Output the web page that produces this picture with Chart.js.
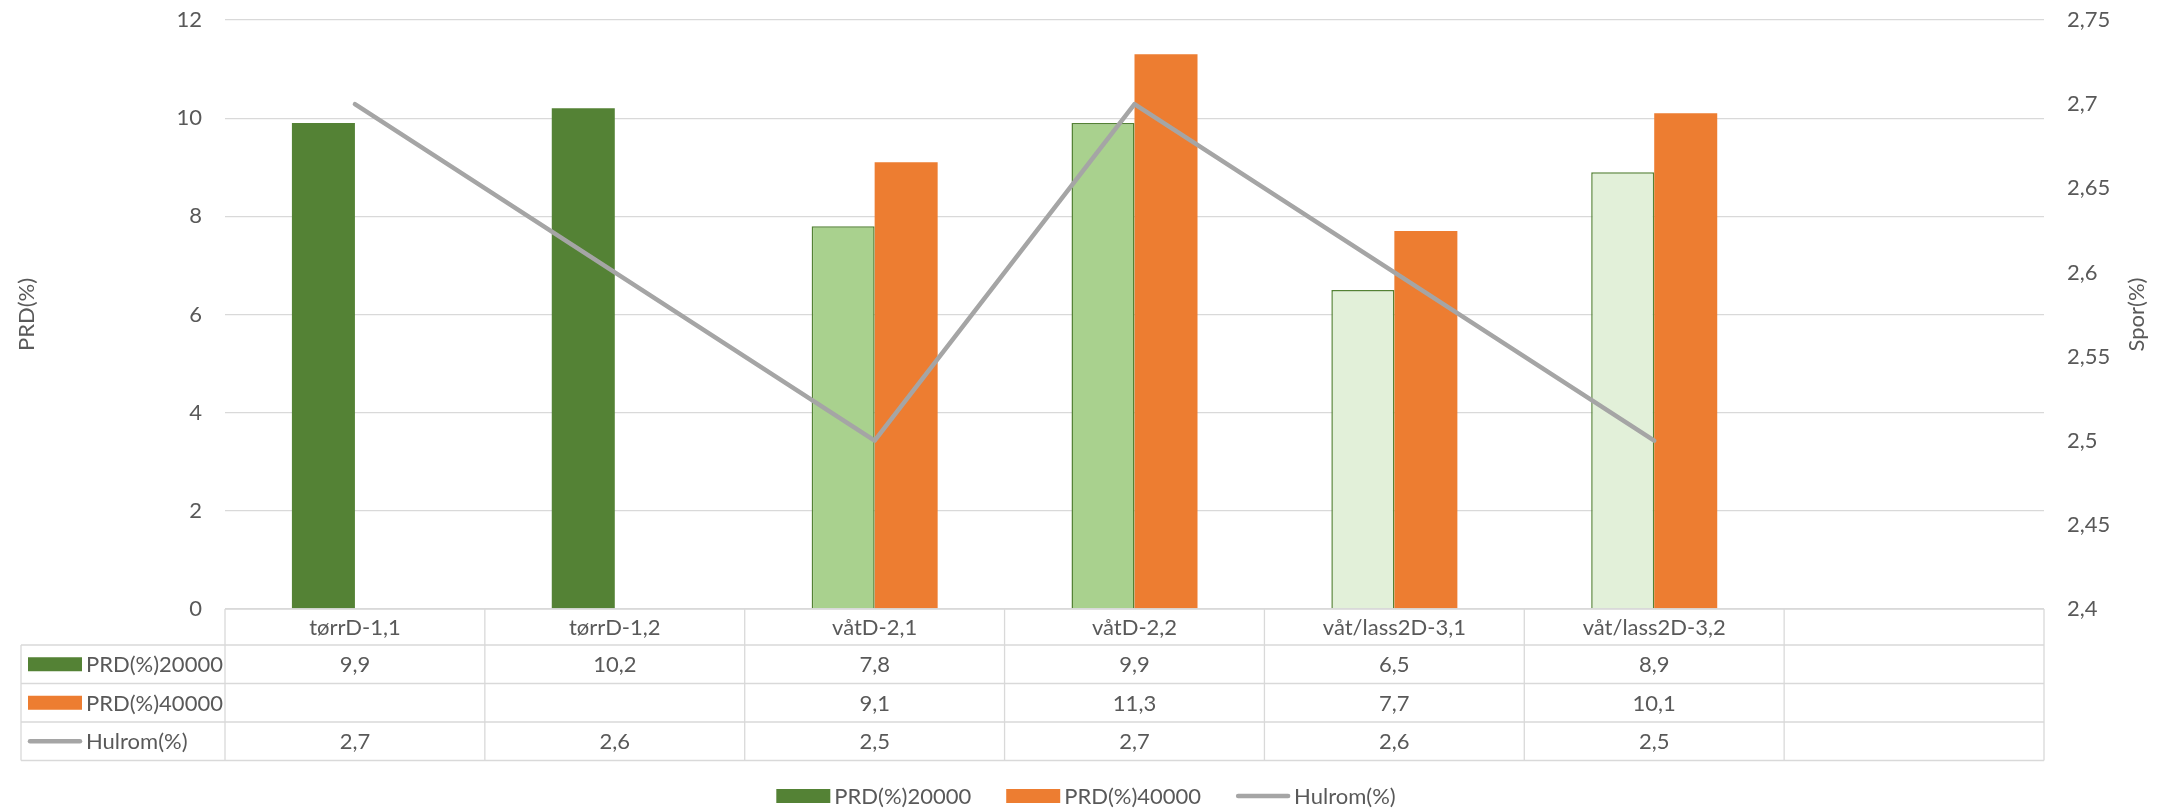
<!DOCTYPE html>
<html>
<head>
<meta charset="utf-8">
<script src="https://cdn.jsdelivr.net/npm/chart.js@4/dist/chart.umd.min.js"></script>
<style>
  html, body { margin: 0; padding: 0; background: #ffffff; }
  canvas { display: block; }
</style>
</head>
<body>
<canvas id="chart" width="2172" height="810"></canvas>
<script>
// Categories (the last column of the table is left empty)
const categories = ['tørrD-1,1', 'tørrD-1,2', 'våtD-2,1', 'våtD-2,2', 'våt/lass2D-3,1', 'våt/lass2D-3,2', ''];

// Series values
const prd20000 = [9.9, 10.2, 7.8, 9.9, 6.5, 8.9, null];
const prd40000 = [null, null, 9.1, 11.3, 7.7, 10.1, null];
const hulrom   = [2.7, 2.6, 2.5, 2.7, 2.6, 2.5, null];

// Series names
const seriesNames = ['PRD(%)20000', 'PRD(%)40000', 'Hulrom(%)'];

// Axis ticks and titles
const leftTicks  = [0, 2, 4, 6, 8, 10, 12];
const rightTicks = [2.4, 2.45, 2.5, 2.55, 2.6, 2.65, 2.7, 2.75];
const leftTitle  = 'PRD(%)';
const rightTitle = 'Spor(%)';

// ---- styling ----
const FONT = 'Lato';
const FONT_SIZE = 22;
const TEXT = '#595959';
const GRID = '#D9D9D9';
const DARK_GREEN = '#548235';
const ORANGE = '#ED7D31';
const GREY_LINE = '#A5A5A5';
const greenFill = ['#548235', '#548235', '#A9D18E', '#A9D18E', '#E2F0D9', '#E2F0D9', '#548235'];
const greenBorder = [0, 0, 1.5, 1.5, 1.5, 1.5, 0];

const comma = v => (v === null || v === undefined) ? '' : String(v).replace('.', ',');

// Data table rows under the plot, plus the bottom legend
const HEADER_H = 36;
const ROW_H = 38.5;
const TABLE_LEFT = 21;
const LEGEND_Y = 796;
const RIGHT_TITLE_X = 2137;

function drawKey(ctx, kind, x, yc, w) {
  ctx.save();
  if (kind === 0) {
    ctx.fillStyle = DARK_GREEN;
    ctx.fillRect(x, yc - 7, w, 14);
  } else if (kind === 1) {
    ctx.fillStyle = ORANGE;
    ctx.fillRect(x, yc - 7, w, 14);
  } else {
    ctx.strokeStyle = GREY_LINE;
    ctx.lineWidth = 4.5;
    ctx.lineCap = 'round';
    ctx.beginPath();
    ctx.moveTo(x + 2, yc);
    ctx.lineTo(x + w - 2, yc);
    ctx.stroke();
  }
  ctx.restore();
}

const dataTablePlugin = {
  id: 'dataTable',
  afterDraw(chart) {
    const ctx = chart.ctx;
    const xs = chart.scales.x;
    const area = chart.chartArea;
    const n = categories.length;
    const colW = xs.getPixelForValue(1) - xs.getPixelForValue(0);
    const top = area.bottom;
    const rowTops = [top + HEADER_H, top + HEADER_H + ROW_H, top + HEADER_H + 2 * ROW_H];
    const bottom = top + HEADER_H + 3 * ROW_H;
    const rows = [prd20000, prd40000, hulrom];

    ctx.save();
    ctx.strokeStyle = GRID;
    ctx.lineWidth = 1.3;
    ctx.beginPath();
    // horizontal lines
    ctx.moveTo(area.left, top); ctx.lineTo(area.right, top);
    rowTops.forEach(y => { ctx.moveTo(TABLE_LEFT, y); ctx.lineTo(area.right, y); });
    ctx.moveTo(TABLE_LEFT, bottom); ctx.lineTo(area.right, bottom);
    // vertical lines
    ctx.moveTo(TABLE_LEFT, rowTops[0]); ctx.lineTo(TABLE_LEFT, bottom);
    for (let i = 0; i <= n; i++) {
      const xv = xs.getPixelForValue(0) - colW / 2 + i * colW;
      ctx.moveTo(xv, top); ctx.lineTo(xv, bottom);
    }
    ctx.stroke();

    ctx.fillStyle = TEXT;
    ctx.font = FONT_SIZE + 'px ' + FONT;
    ctx.textBaseline = 'middle';
    ctx.textAlign = 'center';
    // header: category names
    categories.forEach((c, i) => {
      ctx.fillText(c, xs.getPixelForValue(i), top + HEADER_H / 2 + 1);
    });
    // value rows
    rows.forEach((vals, r) => {
      const yc = rowTops[r] + ROW_H / 2;
      vals.forEach((v, i) => {
        ctx.fillText(comma(v), xs.getPixelForValue(i), yc + 1);
      });
    });
    // row labels with keys
    ctx.textAlign = 'left';
    rows.forEach((vals, r) => {
      const yc = rowTops[r] + ROW_H / 2;
      drawKey(ctx, r, 28, yc, 54);
      ctx.fillStyle = TEXT;
      ctx.fillText(seriesNames[r], 86, yc + 1);
    });

    // bottom legend, centred on the canvas
    const keyW = 54, keyGap = 4, itemGap = 35;
    const widths = seriesNames.map(s => ctx.measureText(s).width);
    const total = widths.reduce((a, w) => a + keyW + keyGap + w, 0) + itemGap * (seriesNames.length - 1);
    let lx = chart.width / 2 - total / 2;
    seriesNames.forEach((s, i) => {
      drawKey(ctx, i, lx, LEGEND_Y, keyW);
      ctx.fillStyle = TEXT;
      ctx.fillText(s, lx + keyW + keyGap, LEGEND_Y + 1);
      lx += keyW + keyGap + widths[i] + itemGap;
    });

    // secondary axis title, reading bottom to top
    ctx.save();
    ctx.translate(RIGHT_TITLE_X, (area.top + area.bottom) / 2);
    ctx.rotate(-Math.PI / 2);
    ctx.textAlign = 'center';
    ctx.fillStyle = TEXT;
    ctx.fillText(rightTitle, 0, 0);
    ctx.restore();

    ctx.restore();
  }
};

// fixed box sizes for the vertical axes, without extra label padding
function fitVertical(width) {
  return s => {
    s.width = width;
    s.paddingTop = 0;
    s.paddingBottom = 0;
  };
}

function build() {
  new Chart(document.getElementById('chart'), {
    type: 'bar',
    data: {
      labels: categories,
      datasets: [
        {
          type: 'line',
          label: seriesNames[2],
          data: hulrom,
          yAxisID: 'y1',
          borderColor: GREY_LINE,
          backgroundColor: GREY_LINE,
          borderWidth: 4.5,
          pointRadius: 0,
          pointHoverRadius: 0,
          tension: 0,
          borderJoinStyle: 'round',
          borderCapStyle: 'round',
          order: 0
        },
        {
          label: seriesNames[0],
          data: prd20000,
          yAxisID: 'y',
          backgroundColor: greenFill,
          borderColor: DARK_GREEN,
          borderWidth: greenBorder,
          order: 1
        },
        {
          label: seriesNames[1],
          data: prd40000,
          yAxisID: 'y',
          backgroundColor: ORANGE,
          borderWidth: 0,
          order: 2
        }
      ]
    },
    options: {
      responsive: false,
      animation: false,
      devicePixelRatio: 1,
      categoryPercentage: 0.485,
      barPercentage: 1,
      layout: { padding: { top: 20, left: 0, right: 0, bottom: 0 } },
      plugins: {
        legend: { display: false },
        tooltip: { enabled: false }
      },
      scales: {
        x: {
          grid: { display: false },
          border: { display: false },
          ticks: { display: false },
          afterFit: s => { s.height = 201; s.paddingLeft = 0; s.paddingRight = 0; }
        },
        y: {
          position: 'left',
          min: 0,
          max: 12,
          afterBuildTicks: s => { s.ticks = leftTicks.map(v => ({ value: v })); },
          afterFit: fitVertical(225),
          grid: { color: GRID, lineWidth: 1.3, drawTicks: false },
          border: { display: false },
          ticks: {
            padding: 23,
            color: TEXT,
            font: { family: FONT, size: FONT_SIZE },
            callback: v => comma(v)
          },
          title: {
            display: true,
            text: leftTitle,
            color: TEXT,
            font: { family: FONT, size: FONT_SIZE },
            padding: { top: 14, bottom: 0 }
          }
        },
        y1: {
          position: 'right',
          min: 2.4,
          max: 2.75,
          afterBuildTicks: s => { s.ticks = rightTicks.map(v => ({ value: v })); },
          afterFit: fitVertical(128),
          grid: { drawOnChartArea: false, drawTicks: false },
          border: { display: false },
          ticks: {
            padding: 23,
            color: TEXT,
            font: { family: FONT, size: FONT_SIZE },
            callback: v => comma(v)
          },
          title: { display: false }
        }
      }
    },
    plugins: [dataTablePlugin]
  });
}

if (document.fonts && document.fonts.load) {
  document.fonts.load(FONT_SIZE + 'px ' + FONT).then(build, build);
} else {
  build();
}
</script>
</body>
</html>
